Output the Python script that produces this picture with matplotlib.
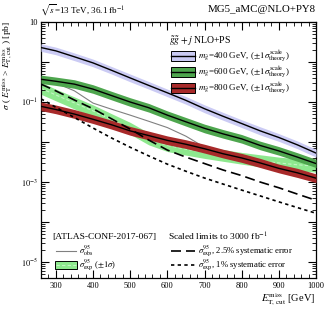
import math
import matplotlib
matplotlib.use("Agg")
import matplotlib.pyplot as plt
from matplotlib.patches import Rectangle
from matplotlib.lines import Line2D
from matplotlib.ticker import FixedLocator, MultipleLocator, FuncFormatter, NullFormatter

plt.rcParams['font.family'] = ['Liberation Serif', 'DejaVu Serif']
plt.rcParams['mathtext.fontset'] = 'stix'

# MET cut [GeV]
met = [260, 300, 350, 400, 450, 500, 550, 600, 650, 700, 750, 800, 850, 900, 950, 1000]

# gluino pair + jet, m = 400 GeV
m400 = [2.3, 1.9, 1.35, 0.95, 0.62, 0.40, 0.26, 0.17, 0.11, 0.068, 0.044, 0.029, 0.019, 0.013, 0.0085, 0.0053]
m400_lo = [1.85, 1.52, 1.08, 0.76, 0.50, 0.32, 0.21, 0.136, 0.088, 0.054, 0.035, 0.023, 0.015, 0.0104, 0.0068, 0.0042]
m400_hi = [2.85, 2.35, 1.68, 1.18, 0.77, 0.50, 0.325, 0.21, 0.137, 0.085, 0.055, 0.036, 0.024, 0.0162, 0.0106, 0.0066]

# m = 600 GeV
m600 = [0.37, 0.33, 0.28, 0.21, 0.145, 0.10, 0.072, 0.047, 0.032, 0.022, 0.016, 0.012, 0.0082, 0.006, 0.0042, 0.0029]
m600_lo = [0.29, 0.26, 0.22, 0.165, 0.113, 0.078, 0.056, 0.037, 0.025, 0.017, 0.0125, 0.0094, 0.0064, 0.0047, 0.0033, 0.0023]
m600_hi = [0.47, 0.42, 0.36, 0.27, 0.185, 0.128, 0.092, 0.06, 0.041, 0.028, 0.0205, 0.0154, 0.0105, 0.0077, 0.0054, 0.0037]

# m = 800 GeV
m800 = [0.078, 0.065, 0.05, 0.037, 0.027, 0.019, 0.0145, 0.011, 0.0088, 0.0068, 0.0051, 0.0040, 0.0030, 0.0022, 0.0017, 0.00125]
m800_lo = [0.061, 0.051, 0.039, 0.029, 0.021, 0.0148, 0.0113, 0.0086, 0.0069, 0.0053, 0.004, 0.0031, 0.0023, 0.0017, 0.0013, 0.00097]
m800_hi = [0.10, 0.084, 0.065, 0.048, 0.035, 0.0245, 0.0187, 0.0142, 0.0114, 0.0088, 0.0066, 0.0052, 0.0039, 0.0028, 0.0022, 0.0016]

# ATLAS-CONF-2017-067 limits
obs = [0.38, 0.30, 0.19, 0.094, 0.066, 0.047, 0.033, 0.023, 0.014, 0.0074, 0.0055, 0.0042, 0.0032, 0.0024, 0.0018, 0.0013]
exp = [0.22, 0.15, 0.095, 0.06, 0.036, 0.022, 0.012, 0.0082, 0.0066, 0.0055, 0.0046, 0.0039, 0.0034, 0.0030, 0.0027, 0.0025]
exp_lo = [0.156, 0.107, 0.067, 0.043, 0.026, 0.0156, 0.0085, 0.0058, 0.0047, 0.0039, 0.0033, 0.0028, 0.0024, 0.0021, 0.0019, 0.00178]
exp_hi = [0.31, 0.21, 0.134, 0.085, 0.051, 0.031, 0.017, 0.0116, 0.0093, 0.0078, 0.0065, 0.0055, 0.0048, 0.0042, 0.0038, 0.0035]

# scaled to 3000 fb-1
exp_syst25 = [0.28, 0.19, 0.112, 0.068, 0.038, 0.021, 0.0112, 0.0063, 0.0042, 0.0029, 0.002, 0.00145, 0.001, 0.00072, 0.0005, 0.00035]
exp_syst1 = [0.12, 0.074, 0.041, 0.0224, 0.0126, 0.0074, 0.0045, 0.0028, 0.00186, 0.00126, 0.00089, 0.00063, 0.00045, 0.00032, 0.00023, 0.000166]

decades = [1e-5, 1e-4, 1e-3, 1e-2, 1e-1, 1, 10]

c400 = '#cbcbf4'
c600 = '#4ea64e'
c800 = '#a82a2a'
cexp = '#8ee88e'

W, H = 332, 317
fig = plt.figure(figsize=(W / 100, H / 100), dpi=100)
ax = fig.add_axes([41 / W, 1 - 278 / H, 275 / W, 256 / H])


def fx(px):
    return px / W


def fy(py):
    return 1 - py / H


# --- limits ---
ax.fill_between(met, exp_lo, exp_hi, color=cexp, lw=0, zorder=1)
ax.plot(met, exp, color='#c4f4c4', lw=0.8, ls=(0, (3, 2)), zorder=1.5)
ax.plot(met, obs, color='#808080', lw=0.8, zorder=2)

# --- theory bands ---
for lo, hi, c, col in [(m400_lo, m400_hi, m400, c400),
                       (m600_lo, m600_hi, m600, c600),
                       (m800_lo, m800_hi, m800, c800)]:
    ax.fill_between(met, lo, hi, color=col, lw=0, zorder=3)
    ax.plot(met, c, color='black', lw=1.0, zorder=4)

ax.plot(met, exp_syst25, color='black', lw=1.2, ls=(0, (6, 3)), zorder=5)
ax.plot(met, exp_syst1, color='black', lw=1.2, ls=(0, (2, 2)), zorder=5)

ax.set_xlim(260, 1000)
ax.set_ylim(4e-6, 10)
ax.set_yscale('log')

ax.xaxis.set_major_locator(MultipleLocator(100))
ax.xaxis.set_minor_locator(MultipleLocator(20))
ax.yaxis.set_major_locator(FixedLocator(decades))
ax.yaxis.set_minor_locator(FixedLocator([d * k for d in [1e-6] + decades[:-1] for k in range(2, 10)
                                         if 4e-6 <= d * k <= 10]))


def ylab(v, pos):
    e = int(round(math.log10(v)))
    if e == 1:
        return '10'
    if e % 2 != 0:
        return r'$10^{%d}$' % e
    return ''


ax.yaxis.set_major_formatter(FuncFormatter(ylab))
ax.yaxis.set_minor_formatter(NullFormatter())
ax.tick_params(which='both', direction='in', top=True, right=True, labelsize=6, colors='black')
ax.tick_params(which='major', length=6, width=0.8)
ax.tick_params(which='minor', length=3, width=0.6)
ax.tick_params(axis='x', pad=3)
ax.tick_params(axis='y', pad=2)
for s in ax.spines.values():
    s.set_linewidth(0.9)

fig.text(fx(315), fy(300), r'$E_{\rm T,\,cut}^{\rm miss}$ [GeV]', fontsize=7.5, ha='right', va='center')
fig.text(fx(8), fy(21), r'$\sigma$ ( $E_{\rm T}^{\rm miss}$ > $E_{\rm T,\,cut}^{\rm miss}$ ) [pb]', fontsize=6.8,
         rotation=90, ha='center', va='top')

# header texts
fig.text(fx(40), fy(10), r'$\sqrt{s}$=13 TeV, 36.1 fb$^{-1}$', fontsize=6.5, ha='left', va='center')
fig.text(fx(316), fy(10), 'MG5_aMC@NLO+PY8', fontsize=7.8, ha='right', va='center')

# --- theory legend ---
fig.text(fx(169), fy(41), r'$\tilde{g}\tilde{g}+j$ NLO+PS', fontsize=7.0, ha='left', va='center')
labels = [r'$m_{\tilde{g}}$=400 GeV, ($\pm1\sigma^{\rm scale}_{\rm theory}$)',
          r'$m_{\tilde{g}}$=600 GeV, ($\pm1\sigma^{\rm scale}_{\rm theory}$)',
          r'$m_{\tilde{g}}$=800 GeV, ($\pm1\sigma^{\rm scale}_{\rm theory}$)']
for i, (lab, col) in enumerate(zip(labels, [c400, c600, c800])):
    yc = 56 + i * 16
    fig.patches.append(Rectangle((fx(171), fy(yc + 5)), 24 / W, 10 / H, transform=fig.transFigure,
                                 facecolor=col, edgecolor='black', lw=0.7))
    fig.lines.append(Line2D([fx(171), fx(195)], [fy(yc), fy(yc)], transform=fig.transFigure,
                            color='black', lw=1.0))
    fig.text(fx(198), fy(yc), lab, fontsize=6.5, ha='left', va='center')

# --- limit legends ---
fig.text(fx(52), fy(237), '[ATLAS-CONF-2017-067]', fontsize=6.8, ha='left', va='center')
fig.lines.append(Line2D([fx(56), fx(76)], [fy(251), fy(251)], transform=fig.transFigure,
                        color='#808080', lw=0.8))
fig.text(fx(79), fy(251), r'$\sigma^{95}_{\rm obs}$', fontsize=6.2, ha='left', va='center')
fig.patches.append(Rectangle((fx(55), fy(269)), 22 / W, 8 / H, transform=fig.transFigure,
                             facecolor=cexp, edgecolor='black', lw=0.7))
fig.lines.append(Line2D([fx(56), fx(76)], [fy(265), fy(265)], transform=fig.transFigure,
                        color='#c4f4c4', lw=0.8, ls=(0, (3, 2))))
fig.text(fx(79), fy(265), r'$\sigma^{95}_{\rm exp}$ ($\pm1\sigma$)', fontsize=6.2, ha='left', va='center')

fig.text(fx(168), fy(237), r'Scaled limits to 3000 fb$^{-1}$', fontsize=6.8, ha='left', va='center')
fig.lines.append(Line2D([fx(171), fx(195)], [fy(251), fy(251)], transform=fig.transFigure,
                        color='black', lw=1.2, ls=(0, (6, 3))))
fig.text(fx(198), fy(251), r'$\sigma^{95}_{\rm exp}$, 2.5% systematic error', fontsize=6.2, ha='left', va='center')
fig.lines.append(Line2D([fx(171), fx(195)], [fy(265), fy(265)], transform=fig.transFigure,
                        color='black', lw=1.2, ls=(0, (2, 2))))
fig.text(fx(198), fy(265), r'$\sigma^{95}_{\rm exp}$, 1% systematic error', fontsize=6.2, ha='left', va='center')

fig.savefig('out.png', dpi=100)
